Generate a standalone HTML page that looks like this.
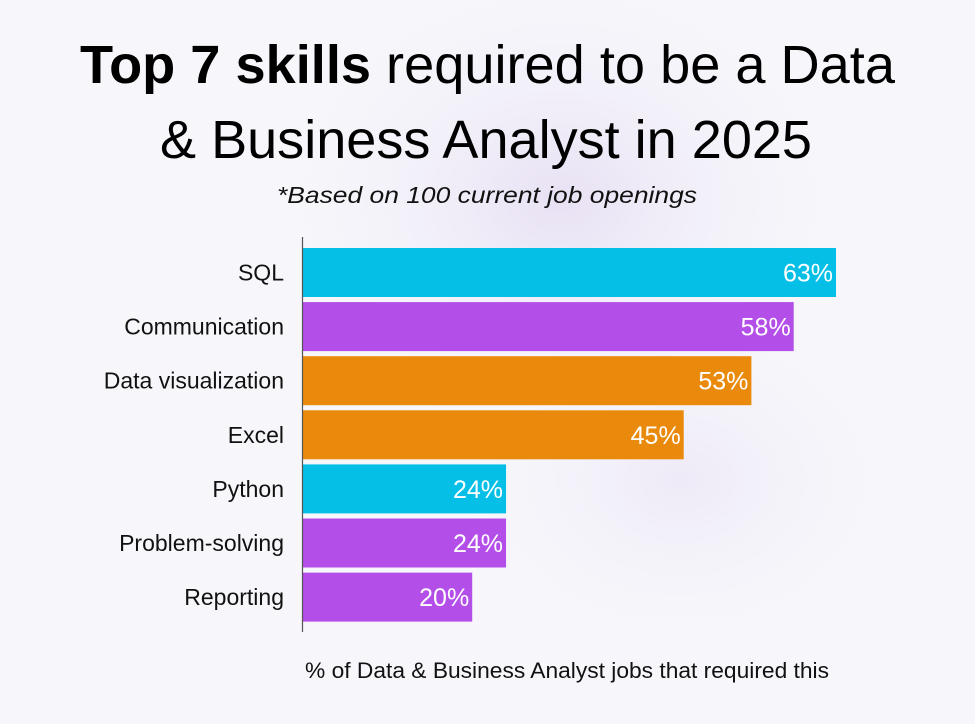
<!DOCTYPE html>
<html><head><meta charset="utf-8"><style>
html,body{margin:0;padding:0;width:975px;height:724px;overflow:hidden;background:#f7f7fb}
svg{display:block;font-family:"Liberation Sans",sans-serif}
</style></head><body>
<svg id="chart" width="975" height="724" viewBox="0 0 975 724">
<defs>
<radialGradient id="blob" cx="0.5" cy="0.5" r="0.5">
<stop offset="0" stop-color="#e6def3" stop-opacity="0.9"/>
<stop offset="1" stop-color="#f7f7fb" stop-opacity="0"/>
</radialGradient>
</defs>
<rect width="975" height="724" fill="#f7f7fb"/>
<ellipse cx="560" cy="200" rx="330" ry="260" fill="url(#blob)"/>
<ellipse cx="680" cy="480" rx="260" ry="200" fill="url(#blob)" opacity="0.6"/>
<text x="80" y="83" font-size="54" fill="#000" textLength="815" lengthAdjust="spacingAndGlyphs"><tspan font-weight="bold">Top 7 skills</tspan> required to be a Data</text>
<text x="160" y="158" font-size="54" fill="#000" textLength="652" lengthAdjust="spacingAndGlyphs">&amp; Business Analyst in 2025</text>
<text x="277" y="203" font-size="23" font-style="italic" fill="#111" textLength="420" lengthAdjust="spacingAndGlyphs">*Based on 100 current job openings</text>
<g id="bars"></g>
<line x1="302.5" y1="237" x2="302.5" y2="632" stroke="#555" stroke-width="1.2"/>
<text x="305" y="678" font-size="22" fill="#111" textLength="524" lengthAdjust="spacingAndGlyphs">% of Data &amp; Business Analyst jobs that required this</text>
</svg>
<script>
const categories = ["SQL","Communication","Data visualization","Excel","Python","Problem-solving","Reporting"];
const values = [63,58,53,45,24,24,20];
const valueLabels = ["63%","58%","53%","45%","24%","24%","20%"];
const colors = ["#06bfe6","#b44ee8","#ea8a0c","#ea8a0c","#06bfe6","#b44ee8","#b44ee8"];
const x0 = 303, pxPer = 533/63;
const xScale = v => x0 + v * pxPer;
const yScale = i => 248 + i * 54.1;
const bh = 49;
const g = document.getElementById('bars');
const NS = 'http://www.w3.org/2000/svg';
categories.forEach((c, i) => {
  const y = yScale(i);
  const r = document.createElementNS(NS, 'rect');
  r.setAttribute('x', x0); r.setAttribute('y', y);
  r.setAttribute('width', xScale(values[i]) - x0); r.setAttribute('height', bh);
  r.setAttribute('fill', colors[i]);
  
  
  g.appendChild(r);
  const t = document.createElementNS(NS, 'text');
  t.setAttribute('x', 284); t.setAttribute('y', y + bh/2 + 8);
  t.setAttribute('text-anchor', 'end'); t.setAttribute('font-size', '23'); t.setAttribute('fill', '#111');
  t.textContent = c;
  
  
  g.appendChild(t);
  const v = document.createElementNS(NS, 'text');
  v.setAttribute('x', xScale(values[i]) - 3); v.setAttribute('y', y + bh/2 + 9);
  v.setAttribute('text-anchor', 'end'); v.setAttribute('font-size', '25'); v.setAttribute('fill', '#fff');
  v.textContent = valueLabels[i];
  
  
  g.appendChild(v);
});
</script>
</body></html>
